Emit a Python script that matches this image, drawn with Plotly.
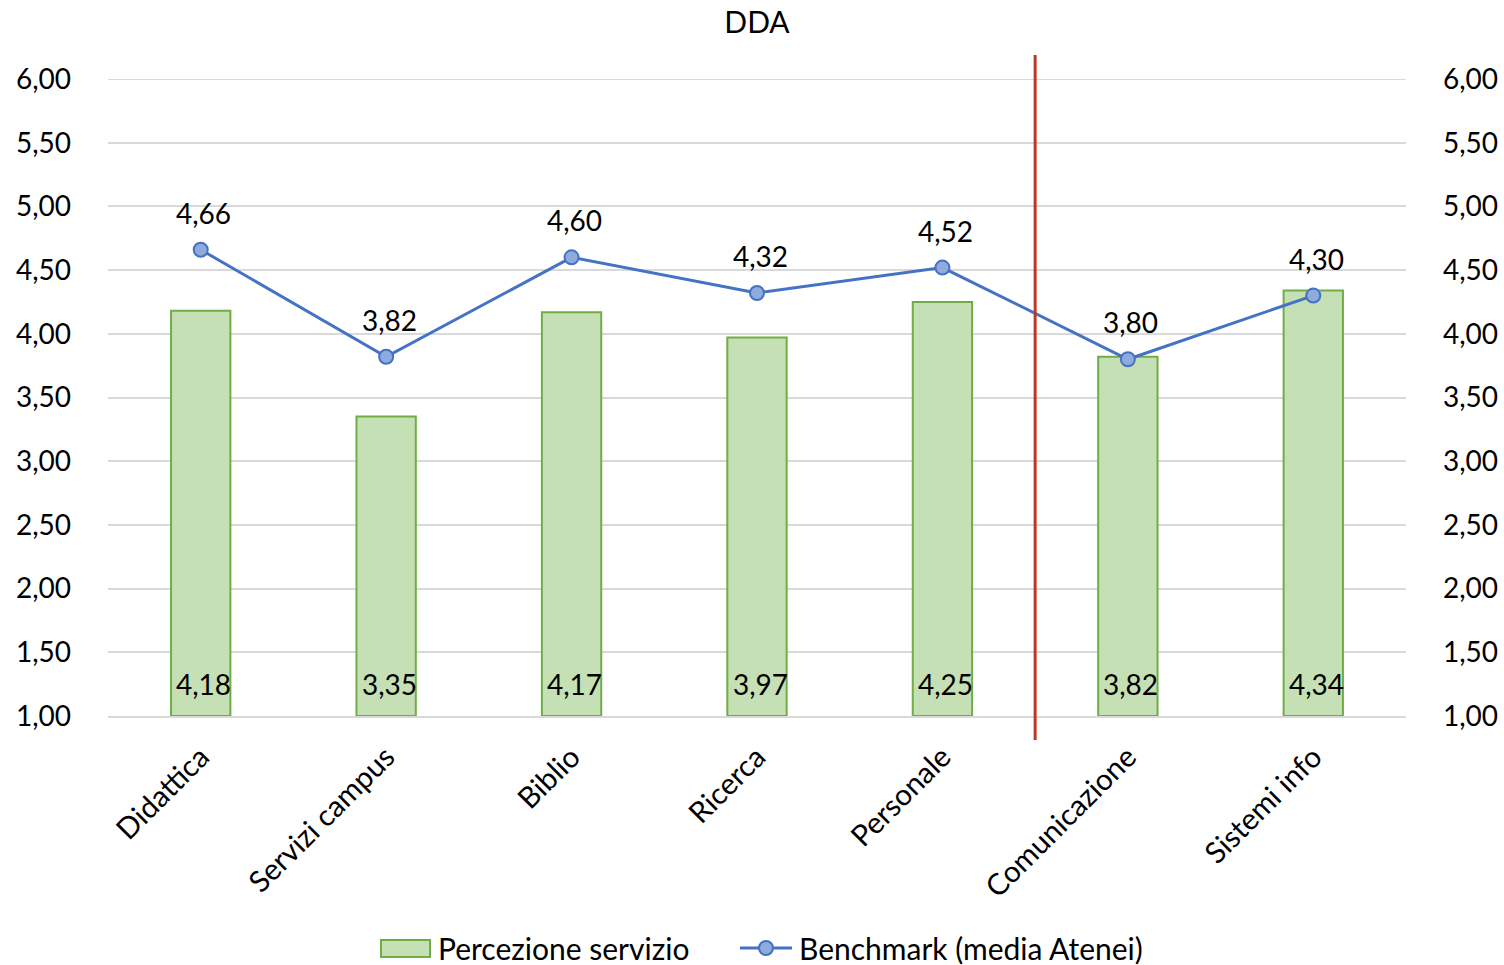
import plotly.graph_objects as go

# Categories and series values
categories = ["Didattica", "Servizi campus", "Biblio", "Ricerca", "Personale",
              "Comunicazione", "Sistemi info"]
percezione = [4.18, 3.35, 4.17, 3.97, 4.25, 3.82, 4.34]
benchmark = [4.66, 3.82, 4.60, 4.32, 4.52, 3.80, 4.30]
y_ticks = [1.0, 1.5, 2.0, 2.5, 3.0, 3.5, 4.0, 4.5, 5.0, 5.5, 6.0]
series_names = ["Percezione servizio", "Benchmark (media Atenei)"]

FONT = "Lato"
FS = 28
FS_CAT = 29.5
FS_LEG = 30
GREEN_FILL = "#C5E0B4"
GREEN_LINE = "#70AD47"
BLUE = "#4472C4"
BLUE_FILL = "#8FAADC"
GRID = "#D9D9D9"
RED = "#B83A26"

W, H = 1504, 965
ML, MR, MT, MB = 108, 98, 79, 249
PW, PH = W - ML - MR, H - MT - MB


def fmt(v):
    return f"{v:.2f}".replace(".", ",")


def px_x(px):
    return (px - ML) / PW


def px_y(py):
    return (H - MB - py) / PH


fig = go.Figure()

fig.add_trace(go.Bar(
    x=categories, y=[v - 1.0 for v in percezione], base=1.0,
    name=series_names[0],
    marker=dict(color=GREEN_FILL, line=dict(color=GREEN_LINE, width=2)),
    width=0.32,
    hoverinfo="skip",
    showlegend=False,
))

fig.add_trace(go.Scatter(
    x=categories, y=benchmark, name=series_names[1],
    mode="lines+markers",
    line=dict(color=BLUE, width=3),
    marker=dict(size=14, color=BLUE_FILL, line=dict(color=BLUE, width=2)),
    yaxis="y2",
    showlegend=False,
))

annotations = []
for c, v in zip(categories, percezione):
    annotations.append(dict(x=c, y=1.0, xref="x", yref="y", text=fmt(v),
                            showarrow=False, yanchor="bottom", yshift=13,
                            xshift=3,
                            font=dict(family=FONT, size=FS, color="black")))
for c, v in zip(categories, benchmark):
    annotations.append(dict(x=c, y=v, xref="x", yref="y", text=fmt(v),
                            showarrow=False, yanchor="middle", yshift=37,
                            xshift=3,
                            font=dict(family=FONT, size=FS, color="black")))

# Legend drawn below the plot: swatch + label per series
legend_y = px_y(948)
annotations.append(dict(x=px_x(436), y=legend_y, xref="paper", yref="paper",
                        text=series_names[0], showarrow=False,
                        xanchor="left", yanchor="middle",
                        font=dict(family=FONT, size=FS_LEG, color="black")))
annotations.append(dict(x=px_x(797), y=legend_y, xref="paper", yref="paper",
                        text=series_names[1], showarrow=False,
                        xanchor="left", yanchor="middle",
                        font=dict(family=FONT, size=FS_LEG, color="black")))

shapes = [
    # top gridline at the upper end of the value range
    dict(type="line", xref="paper", yref="y", x0=0, x1=1,
         y0=y_ticks[-1], y1=y_ticks[-1],
         line=dict(color=GRID, width=2), layer="below"),
    # separator between the two groups of services
    dict(type="line", xref="x", yref="paper", x0=4.5, x1=4.5,
         y0=-24 / PH, y1=1 + 24 / PH,
         line=dict(color=RED, width=3), layer="above"),
    # legend swatches
    dict(type="rect", xref="paper", yref="paper",
         x0=px_x(381), x1=px_x(430), y0=px_y(957), y1=px_y(940),
         fillcolor=GREEN_FILL, line=dict(color=GREEN_LINE, width=2)),
    dict(type="line", xref="paper", yref="paper",
         x0=px_x(740), x1=px_x(792), y0=legend_y, y1=legend_y,
         line=dict(color=BLUE, width=3)),
    dict(type="circle", xref="paper", yref="paper",
         xsizemode="pixel", ysizemode="pixel",
         xanchor=px_x(766), yanchor=legend_y,
         x0=-7, x1=7, y0=-7, y1=7,
         fillcolor=BLUE_FILL, line=dict(color=BLUE, width=2)),
]

tick_text = [fmt(t) for t in y_ticks]

fig.update_layout(
    width=W, height=H,
    margin=dict(l=ML, r=MR, t=MT, b=MB),
    paper_bgcolor="white", plot_bgcolor="white",
    font=dict(family=FONT, size=FS, color="black"),
    title=dict(text="DDA", xref="paper", x=0.5, xanchor="center",
               y=1 - 22 / H, yanchor="middle",
               font=dict(family=FONT, size=30, color="black")),
    showlegend=False,
    xaxis=dict(tickangle=-45, showgrid=False, showline=True, linecolor=GRID,
               linewidth=2, ticks="", ticklabelstandoff=10, automargin=False,
               tickfont=dict(family=FONT, size=FS_CAT)),
    yaxis=dict(range=[1, 6], tickvals=y_ticks, ticktext=tick_text,
               showgrid=True, gridcolor=GRID, gridwidth=2, zeroline=False,
               ticks="", ticklabelstandoff=36, automargin=False,
               tickfont=dict(family=FONT, size=FS)),
    yaxis2=dict(range=[1, 6], tickvals=y_ticks, ticktext=tick_text,
                overlaying="y", side="right", showgrid=False, zeroline=False,
                ticks="", ticklabelstandoff=36, automargin=False,
                tickfont=dict(family=FONT, size=FS)),
    annotations=annotations,
    shapes=shapes,
)

fig.write_html("out.html")
